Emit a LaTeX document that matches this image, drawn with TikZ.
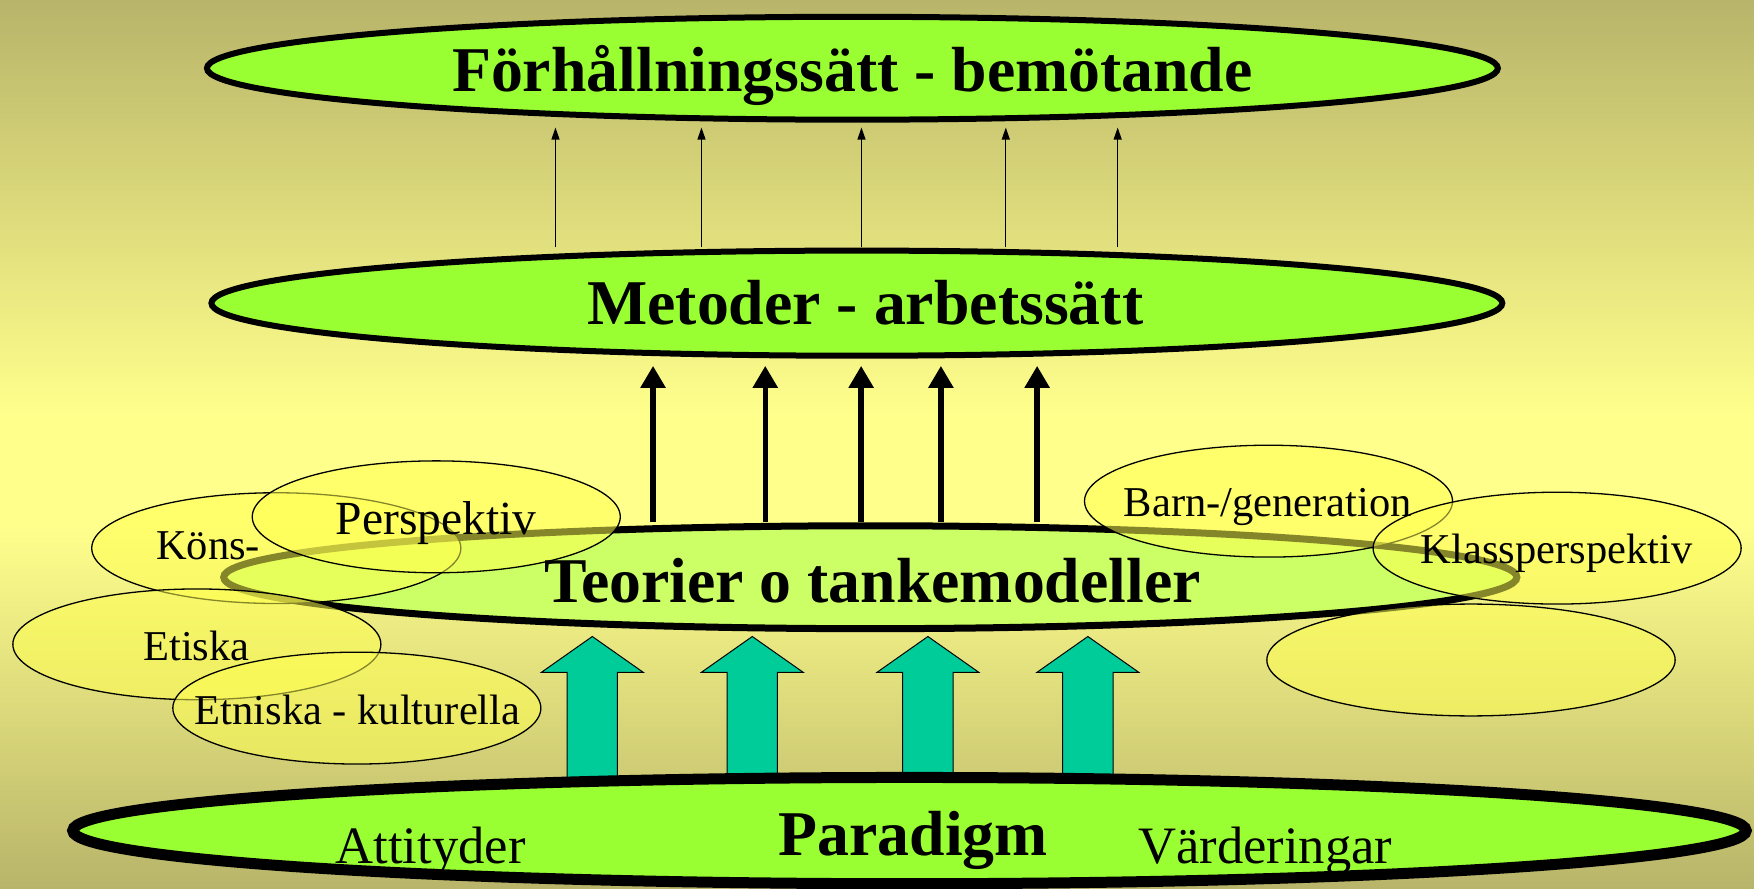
\documentclass[tikz,border=0pt]{standalone}
\usepackage{fontspec}
\setmainfont{Liberation Serif}
\usetikzlibrary{shapes.geometric,arrows.meta}
\definecolor{olivebg}{RGB}{184,180,106}
\definecolor{lightbg}{RGB}{255,255,140}
\definecolor{maingreen}{RGB}{153,255,51}
\definecolor{teogreen}{RGB}{204,255,102}
\definecolor{yel}{RGB}{255,255,80}
\definecolor{tealc}{RGB}{0,204,153}
\tikzset{
  bigell/.style={ellipse, draw=black, fill=maingreen, inner sep=0pt, line width=6pt},
  yell/.style={ellipse, draw=black, line width=1.3pt, fill=yel, fill opacity=0.52, inner sep=0pt},
  lbl/.style={inner sep=0pt, anchor=base, text opacity=1},
  boldtxt/.style={font=\fontsize{57}{60}\selectfont\bfseries},
  smalltxt/.style={font=\fontsize{38}{40}\selectfont},
  midtxt/.style={font=\fontsize{47}{50}\selectfont},
  thinarr/.style={line width=1.2pt, -{Triangle[length=12pt,width=8pt]}},
  thickarr/.style={line width=5.5pt, -{Triangle[length=22pt,width=24pt]}},
  blockarrow/.pic={\draw[fill=tealc, line width=1pt, line join=miter]
     (-22.5,0) -- (-22.5,96) -- (-45.5,96) -- (0,128) -- (45.5,96) -- (22.5,96) -- (22.5,0) -- cycle;}
}
\begin{document}
\begin{tikzpicture}[x=1pt,y=1pt,scale=1.1186,every node/.append style={transform shape}]
\useasboundingbox (0,0) rectangle (1568,-794.7);
% background
\fill[top color=olivebg, bottom color=lightbg] (0,0) rectangle (1568,-371);
\fill[lightbg] (0,-370) rectangle (1568,-471);
\fill[top color=lightbg, bottom color=olivebg] (0,-470) rectangle (1568,-794.7);

% main ellipses
\node[bigell, minimum width=1154, minimum height=92] (top) at (762,-61) {};
\node[bigell, minimum width=1154, minimum height=94] (met) at (766,-271) {};
\node[bigell, fill=teogreen, line width=7pt, minimum width=1156, minimum height=92] (teo) at (778,-516) {};

% x positions
\coordinate (xa1) at (496.5,0);
\coordinate (xa2) at (627,0);
\coordinate (xa3) at (770,0);
\coordinate (xa4) at (899,0);
\coordinate (xa5) at (999,0);
\coordinate (xb1) at (583.7,0);
\coordinate (xb2) at (684,0);
\coordinate (xb3) at (769.7,0);
\coordinate (xb4) at (841,0);
\coordinate (xb5) at (927,0);
\coordinate (tipT) at (0,-114);
\coordinate (tipM) at (0,-327);

% thin arrows Metoder -> top
\foreach \i in {1,...,5}{
  \draw[thinarr] (met.north -| xa\i) -- (tipT -| xa\i);
}
% thick arrows Teorier -> Metoder
\foreach \i in {1,...,5}{
  \draw[thickarr] (teo.north -| xb\i) -- (tipM -| xb\i);
}

% perspective ellipses
\node[yell, minimum width=330, minimum height=99] (kons) at (247,-490) {};
\node[yell, minimum width=329, minimum height=100] (persp) at (390,-462) {};
\node[yell, minimum width=329, minimum height=99] (etiska) at (176,-576) {};
\node[yell, minimum width=329, minimum height=100] (etniska) at (319,-633) {};
\node[yell, minimum width=329, minimum height=100] (barn) at (1134,-448) {};
\node[yell, minimum width=329, minimum height=100] (klass) at (1392,-490) {};
\node[yell, minimum width=365, minimum height=100] (tom) at (1315,-590) {};

% block arrows Paradigm -> Teorier
\pic at (529.5,-697) {blockarrow};
\pic at (672.5,-697) {blockarrow};
\pic at (829.5,-697) {blockarrow};
\pic at (972.5,-697) {blockarrow};

% Paradigm
\node[bigell, line width=11pt, minimum width=1496, minimum height=95] (par) at (813,-742.5) {};

% labels
\node[lbl, boldtxt] (ltop) at (762,-82) {Förhållningssätt - bemötande};
\node[lbl, boldtxt] (lmet) at (773.5,-290) {Metoder - arbetssätt};
\node[lbl, boldtxt] (lteo) at (780,-539) {Teorier o tankemodeller};
\node[lbl, boldtxt] (lpar) at (816.5,-765) {Paradigm};
\node[lbl, midtxt] (latt) at (385,-771.5) {Attityder};
\node[lbl, midtxt] (lvar) at (1131,-771.5) {Värderingar};
\node[lbl, smalltxt] (lkons) at (186,-500) {Köns-};
\node[lbl, font=\fontsize{42.5}{45}\selectfont] (lpersp) at (390,-477.5) {Perspektiv};
\node[lbl, smalltxt] (letiska) at (175.6,-590) {Etiska};
\node[lbl, smalltxt] (letniska) at (319.6,-647.5) {Etniska - kulturella};
\node[lbl, smalltxt] (lbarn) at (1133.5,-462) {Barn-/generation};
\node[lbl, smalltxt] (lklass) at (1391.5,-504) {Klassperspektiv};
\end{tikzpicture}
\end{document}
